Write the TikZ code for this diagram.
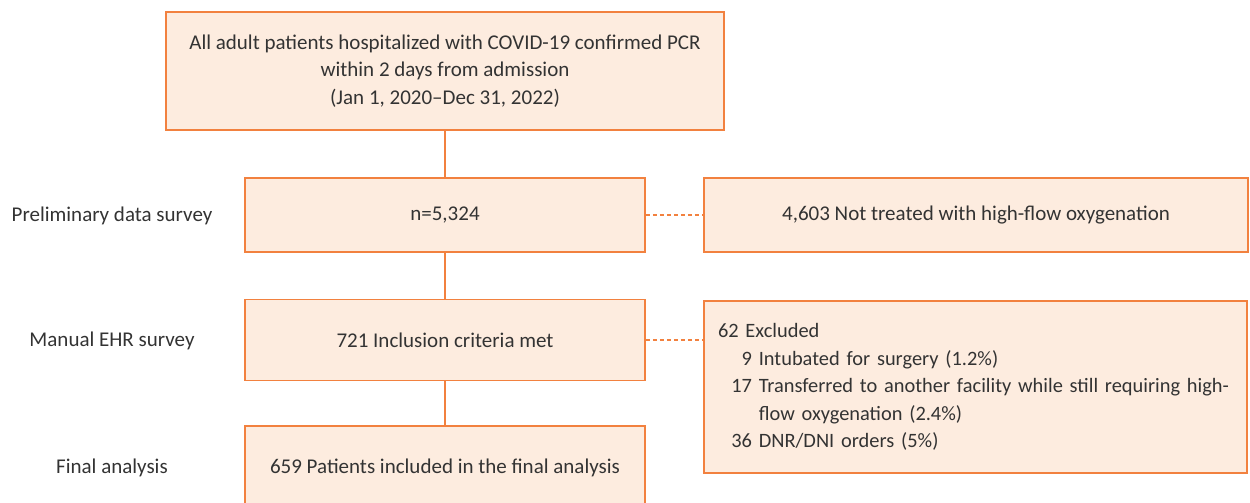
\documentclass[tikz,border=0pt]{standalone}
\usepackage{fontspec}
\setmainfont{Carlito}
\definecolor{boxline}{HTML}{F2813F}
\definecolor{boxfill}{HTML}{FDECDF}
\definecolor{ink}{HTML}{333333}
\tikzset{
  flowbox/.style={draw=boxline, fill=boxfill, line width=1.5pt, text=ink,
    inner sep=0pt, align=center},
  stage/.style={text=ink, align=center},
  link/.style={draw=boxline, line width=1.5pt},
  droplink/.style={draw=boxline, line width=1.5pt, dash pattern=on 4pt off 3pt}
}
\begin{document}
\begin{tikzpicture}[x=1pt, y=-1pt,
    font=\fontsize{21}{27.5}\selectfont]
        \useasboundingbox (0,0) rectangle (1250,503);

        % Boxes of the main flow
        \node[flowbox, minimum width=558pt, minimum height=118pt] (cohort) at (445,71)
            {All adult patients hospitalized with COVID-19 confirmed PCR\\
             within 2 days from admission\\
             (Jan 1, 2020--Dec 31, 2022)};
        \node[flowbox, minimum width=400pt, minimum height=74pt] (survey) at (445,215) {n=5,324};
        \node[flowbox, minimum width=400pt, minimum height=81pt] (inclusion) at (445,340) {721 Inclusion criteria met};
        \node[flowbox, minimum width=400pt, minimum height=84pt] (final) at (445,468) {659 Patients included in the final analysis};

        % Boxes of the excluded patients
        \node[flowbox, minimum width=544pt, minimum height=74pt] (nohfo) at (976,215) {4,603 Not treated with high-flow oxygenation};
        \node[flowbox, minimum width=543pt, minimum height=172pt, text width=515pt, align=left,
              font=\fontsize{20.4}{27.5}\selectfont] (excluded) at (975.5,387)
            {62 Excluded\\
             \hspace*{12pt}\makebox[22pt][r]{9} Intubated for surgery (1.2\%)\\
             \hspace*{12pt}\makebox[22pt][r]{17} Transferred to another facility while still requiring high-\\
             \hspace*{12pt}\makebox[22pt][r]{} flow oxygenation (2.4\%)\\
             \hspace*{12pt}\makebox[22pt][r]{36} DNR/DNI orders (5\%)};

        % Stage labels
        \node[stage] (prelim) at (112,216) {Preliminary data survey};
        \node[stage] (manual) at (112,341) {Manual EHR survey};
        \node[stage] (analysis) at (112,468) {Final analysis};

        % Connectors
        \draw[link] (cohort) -- (survey);
        \draw[link] (survey) -- (inclusion);
        \draw[link] (inclusion) -- (final);
        \draw[droplink] (survey.east) -- (nohfo.west);
        \draw[droplink] (inclusion.east) -- (inclusion.east -| excluded.west);
\end{tikzpicture}
\end{document}
